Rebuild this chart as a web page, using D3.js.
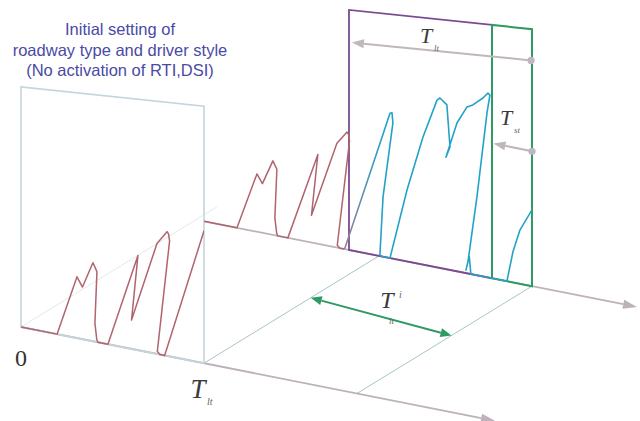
<!DOCTYPE html>
<html><head><meta charset="utf-8">
<script src="https://cdn.jsdelivr.net/npm/d3@7"></script>
<style>html,body{margin:0;padding:0;background:#fff;}svg{display:block;}</style>
</head><body>
<svg id="chart" width="640" height="421"></svg>
<script>
// ---------------- data ----------------
// one driving signal: time in units of T_lt, value as fraction of panel height
const seriesT = [0,0.197,0.306,0.336,0.393,0.415,0.404,0.414,0.42,0.475,0.639,0.604,0.743,0.79,0.798,0.806,0.812,0.745,0.76,0.785,
  1.0,1.033,1.044,1.049,0.995,0.978,0.99,1.033,1.126,1.213,1.29,1.306,1.344,1.361,1.339,1.399,1.454,1.486,1.541,1.568,1.579,
  1.563,1.508,1.459,1.448,1.466,1.475,1.672,1.705,1.743,1.809];
const seriesV = [0,0,0.25,0.212,0.318,0.285,0.075,0.01,0,0,0.377,0.115,0.437,0.482,0.49,0.482,0.455,0.01,0,0,
  0.515,0.594,0.597,0.556,0.245,0.005,0,0,0.291,0.516,0.674,0.684,0.66,0.493,0.45,0.593,0.663,0.674,0.707,0.729,0.722,
  0.649,0.31,0.046,0.012,0.07,0,0,0.12,0.21,0.297];
const redEndIndex = 19;           // first window shown before activation
const titleLines = ["Initial setting of","roadway type and driver style","(No activation of RTI,DSI)"];
const T_LT = 1;                   // long-term window length
const T_ST = 0.2185;              // short-term window length
const T_NOW = 1.836;              // end of the current window
const lowerAxisEnd = 2.59;
const upperAxisStart = 0.044, upperAxisEnd = 2.41;
const originLabel = "0";
const symT = "T", subLT = "lt", subST = "st", supI = "i";

// ---------------- geometry ----------------
const tX = d3.scaleLinear().domain([0,1]).range([0,183]);
const tY = d3.scaleLinear().domain([0,1]).range([0,36.2]);
const hS = d3.scaleLinear().domain([0,1]).range([240,257]);
const lower = {x0:21, y0:327, dh:0, shift:0};
const upper = {x0:196, y0:219.7, dh:14.2, shift:0.027};
function P(pl,t,v){ v=v||0; return [pl.x0+tX(t), pl.y0+tY(t)-v*(hS(t)-pl.dh)]; }
function floorPt(t,d){ const a=P(lower,t), b=P(upper,t); return [a[0]+(b[0]-a[0])*d, a[1]+(b[1]-a[1])*d]; }

const svg = d3.select("#chart");
const defs = svg.append("defs");
const line = d3.line();

const cAxis="#bdb1ba", cPanel="#c4d5db", cRed="#b0646f", cBlue="#23a2c8", cPurple="#7c4a90",
      cGreen="#2f9a62", cFloor="#a9c5c6", cText="#3a3a3a", cTitle="#4a4aa6";

function arrowHead(tip, from, len, wid, color){
  const dx=tip[0]-from[0], dy=tip[1]-from[1], L=Math.hypot(dx,dy);
  const ux=dx/L, uy=dy/L, px=-uy, py=ux;
  const b=[tip[0]-ux*len, tip[1]-uy*len];
  svg.append("path").attr("d", line([tip,[b[0]+px*wid/2,b[1]+py*wid/2],[b[0]-px*wid/2,b[1]-py*wid/2]])+"Z")
    .attr("fill",color);
  return b;
}
function seg(a,b,color,w){ svg.append("path").attr("d",line([a,b])).attr("stroke",color).attr("stroke-width",w).attr("fill","none"); }

// ---- time axes ----
{
  const a=P(lower,0), b=P(lower,lowerAxisEnd);
  const base=arrowHead(b,a,14,9,cAxis); seg(a,base,cAxis,1.8);
  const c=P(upper,upperAxisStart), d=P(upper,upperAxisEnd);
  const base2=arrowHead(d,c,14,9,cAxis); seg(c,base2,cAxis,1.8);
}
// ---- floor lines ----
seg(floorPt(0,0), floorPt(0,1.12), "#e2eaea", 1);
[T_LT, T_NOW].forEach(t=>seg(floorPt(t,0), floorPt(t,1), cFloor, 1));

// ---- first panel ----
svg.append("path").attr("d", line([P(lower,0,0),P(lower,0,1),P(lower,T_LT,1),P(lower,T_LT,0)])+"Z")
  .attr("fill","none").attr("stroke",cPanel).attr("stroke-width",1.6);

// ---- current window panels ----
const tStart = T_NOW - T_LT, tShort = T_NOW - T_ST;
svg.append("path").attr("d", line([P(upper,tShort,1),P(upper,tStart,1),P(upper,tStart,0),P(upper,tShort,0)]))
  .attr("fill","none").attr("stroke",cPurple).attr("stroke-width",1.8);
svg.append("path").attr("d", line([P(upper,tShort,0),P(upper,tShort,1),P(upper,T_NOW,1),P(upper,T_NOW,0)])+"Z")
  .attr("fill","none").attr("stroke",cGreen).attr("stroke-width",2);

// ---- curves ----
const pts = seriesT.map((t,i)=>[t,seriesV[i]]);
const x204 = P(lower,T_LT)[0], xEnd = P(upper,T_NOW)[0];
defs.append("clipPath").attr("id","clipLow").append("rect").attr("x",0).attr("y",0).attr("width",x204).attr("height",421);
defs.append("clipPath").attr("id","clipUp").append("rect").attr("x",x204).attr("y",0).attr("width",xEnd-x204).attr("height",421);
const firstOver = seriesT.findIndex(t=>t>=T_LT);
const lowLine = d3.line().x(d=>P(lower,d[0],d[1])[0]).y(d=>P(lower,d[0],d[1])[1]);
const upLine = d3.line().x(d=>P(upper,d[0]+upper.shift,d[1])[0]).y(d=>P(upper,d[0]+upper.shift,d[1])[1]);
svg.append("path").attr("clip-path","url(#clipLow)").attr("d",lowLine(pts.slice(0,firstOver+1)))
  .attr("fill","none").attr("stroke",cRed).attr("stroke-width",1.5).attr("stroke-linejoin","round");
svg.append("path").attr("clip-path","url(#clipUp)").attr("d",upLine(pts.slice(0,redEndIndex+1)))
  .attr("fill","none").attr("stroke",cRed).attr("stroke-width",1.5).attr("stroke-linejoin","round");
const gx0 = P(upper,seriesT[redEndIndex]+upper.shift)[0];
const grad = defs.append("linearGradient").attr("id","bg").attr("gradientUnits","userSpaceOnUse")
  .attr("x1",gx0).attr("x2",gx0+38).attr("y1",0).attr("y2",0);
grad.append("stop").attr("offset",0).attr("stop-color","#9a7f9c");
grad.append("stop").attr("offset",1).attr("stop-color",cBlue);
svg.append("path").attr("clip-path","url(#clipUp)").attr("d",upLine(pts.slice(redEndIndex)))
  .attr("fill","none").attr("stroke","url(#bg)").attr("stroke-width",1.6).attr("stroke-linejoin","round");

// ---- gray window arrows ----
function grayArrow(from,to){
  const base=arrowHead(to,from,12,9,"#c0b6be"); seg(from,base,"#c0b6be",2);
  svg.append("circle").attr("cx",from[0]).attr("cy",from[1]).attr("r",3.6).attr("fill","#c0b6be");
}
const ltFrom=P(upper,T_NOW-0.005,0.878), ltTo=P(upper,tStart+0.016,0.866);
grayArrow(ltFrom,ltTo);
const stFrom=P(upper,T_NOW,0.525), stTo=P(upper,tShort+0.008,0.533);
grayArrow(stFrom,stTo);

// ---- green floor arrow ----
const gA=floorPt(T_LT,0.61), gB=floorPt(T_NOW,0.54);
const bA=arrowHead(gA,gB,11,9,cGreen), bB=arrowHead(gB,gA,11,9,cGreen);
seg(bA,bB,cGreen,2);

// ---- text ----
function txt(x,y,s,size,opts){
  opts=opts||{};
  return svg.append("text").attr("x",x).attr("y",y).text(s)
    .attr("font-family",opts.family||"'Liberation Serif','Times New Roman',serif")
    .attr("font-style",opts.style||"italic").attr("font-size",size)
    .attr("fill",opts.fill||cText).attr("text-anchor",opts.anchor||"middle");
}
titleLines.forEach((s,i)=>txt(120,35+i*20.6,s,16.5,{family:"'Liberation Sans',Arial,sans-serif",style:"normal",fill:cTitle}));
txt(21,366,originLabel,24,{style:"normal",fill:"#333"});
// bottom T_lt
const pLT=P(lower,T_LT);
txt(pLT[0]-6,pLT[1]+35,symT,27);
txt(pLT[0]+3,pLT[1]+42,subLT,10,{anchor:"start",fill:"#666"});
// top T_lt
txt(426,43,symT,22);
txt(434,51,subLT,9,{anchor:"start",fill:"#666"});
// T_st
txt(506,125,symT,22);
txt(514,133,subST,9,{anchor:"start",fill:"#666"});
// T^i_lt
txt(387,308,symT,24);
txt(399,298,supI,10,{anchor:"start",fill:"#666"});
txt(389,324,subLT,9,{anchor:"start",fill:"#666"});
</script>
</body></html>
